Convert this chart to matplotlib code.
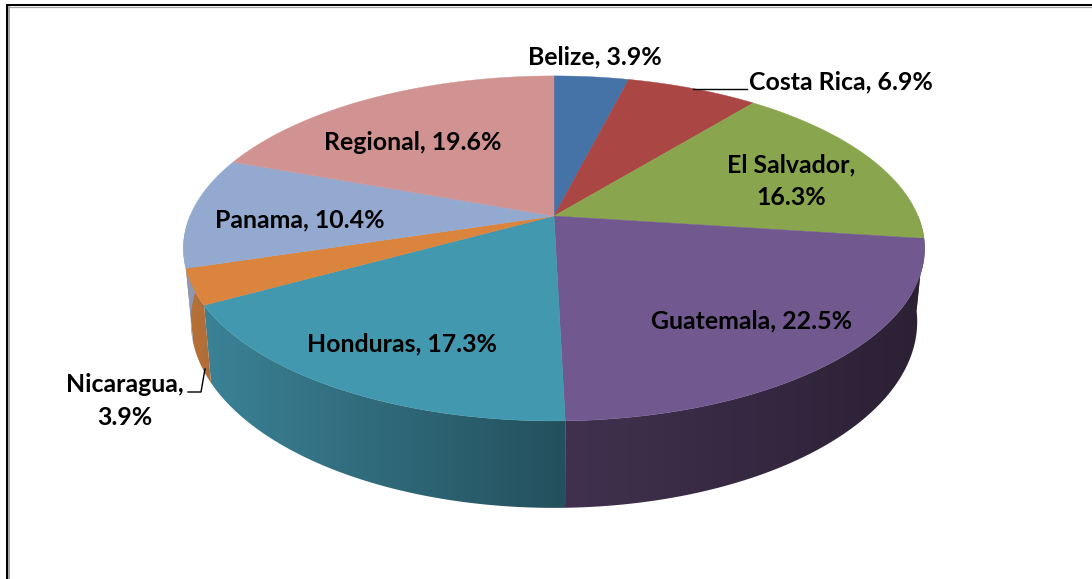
#!/usr/bin/env python3
"""3D pie of shares by country, drawn with a simple perspective projection."""

import numpy as np
import matplotlib
matplotlib.use('Agg')
import matplotlib.pyplot as plt
from matplotlib.colors import to_rgb
from matplotlib.patches import Polygon

plt.rcParams['font.family'] = ['Lato', 'DejaVu Sans']

# label text and printed percentages
names = ["Belize", "Costa Rica", "El Salvador", "Guatemala",
         "Honduras", "Nicaragua", "Panama", "Regional"]
printed = [3.9, 6.9, 16.3, 22.5, 17.3, 3.9, 10.4, 19.6]
shares = [3.9, 6.9, 16.3, 22.5, 17.3, 3.3, 10.4, 19.4]

top_colors = ["#4572a7", "#aa4643", "#89a54e", "#71588f",
              "#4198af", "#db843d", "#93a9cf", "#d19392"]
# side wall colours, left end and right end of the gradient
side_left = ["#35587f", "#7f3533", "#67793b", "#41314f",
             "#3b8296", "#b8733a", "#8d98b4", "#9c6e6d"]
side_right = ["#35587f", "#7f3533", "#2b2034", "#2b2034",
              "#24505d", "#b06c35", "#8d98b4", "#9c6e6d"]

# pie geometry in pixels
CX, CY = 554.0, 216.0
RX, RY = 364.0, 166.4
PERSP = 0.188
DEPTH = 70.6
BOTTOM_SCALE = 0.98


def rim(theta_deg, bottom=False):
    """Project a rim point, angle clockwise from the top of the pie."""
    t = np.radians(theta_deg)
    x, y = np.sin(t), np.cos(t)
    den = 1 + PERSP * y
    if bottom:
        return CX + BOTTOM_SCALE * RX * x / den, CY + (DEPTH - RY * y) / den
    return CX + RX * x / den, CY - RY * y / den


fig = plt.figure(figsize=(10.92, 5.79), dpi=100, facecolor='white')
ax = fig.add_axes([0, 0, 1, 1])
ax.set_xlim(0, 1092)
ax.set_ylim(579, 0)
ax.axis('off')

edges = np.concatenate([[0], np.cumsum(shares)]) * 3.6

# side wall, one clipped gradient per slice on the front half
for i in range(len(shares)):
    a0, a1 = max(edges[i], 90), min(edges[i + 1], 270)
    if a1 <= a0:
        continue
    tt = np.linspace(a0, a1, 150)
    tx, ty = rim(tt)
    bx, by = rim(tt, bottom=True)
    px = np.r_[tx, bx[::-1]]
    py = np.r_[ty, by[::-1]]
    grad = np.linspace(0, 1, 256)[None, :, None]
    c0, c1 = np.array(to_rgb(side_left[i])), np.array(to_rgb(side_right[i]))
    img = c0 + (c1 - c0) * grad
    im = ax.imshow(img, extent=(px.min(), px.max(), py.max(), py.min()),
                   aspect='auto', zorder=2, interpolation='bilinear')
    im.set_clip_path(Polygon(np.c_[px, py], transform=ax.transData))
ax.set_xlim(0, 1092)
ax.set_ylim(579, 0)

# top face
for i in range(len(shares)):
    tt = np.linspace(edges[i], edges[i + 1], 120)
    px, py = rim(tt)
    ax.fill(np.r_[CX, px], np.r_[CY, py], color=top_colors[i], lw=0.3, zorder=3)

# data labels
label_pos = [(595, 57), (841, 82), (791, 181), (752, 321),
             (402, 344), (125, 401), (300, 220), (413, 142)]
for i, name in enumerate(names):
    txt = f"{name}, {printed[i]}%"
    if name in ("El Salvador", "Nicaragua"):
        txt = f"{name},\n{printed[i]}%"
    ax.text(label_pos[i][0], label_pos[i][1], txt, ha='center', va='center',
            fontsize=17.9, fontweight='bold', color='black', zorder=5,
            linespacing=1.5)

# leader lines
ax.plot([693, 747], [89, 89], color='black', lw=1.0, zorder=4)
ax.plot([188, 201, 205], [392, 392, 369], color='black', lw=1.0, zorder=4)

# frame of the pasted picture
ax.plot([7, 7], [4, 579], color='black', lw=1.44, zorder=6, solid_capstyle='butt')
ax.plot([6, 1092], [5, 5], color='black', lw=1.44, zorder=6, solid_capstyle='butt')
ax.plot([9, 9], [6, 579], color='#a6a6a6', lw=1.44, zorder=6, solid_capstyle='butt')
ax.plot([8, 1092], [6.6, 6.6], color='#a6a6a6', lw=0.9, zorder=6, solid_capstyle='butt')

fig.savefig('out.png', dpi=100, facecolor='white')
